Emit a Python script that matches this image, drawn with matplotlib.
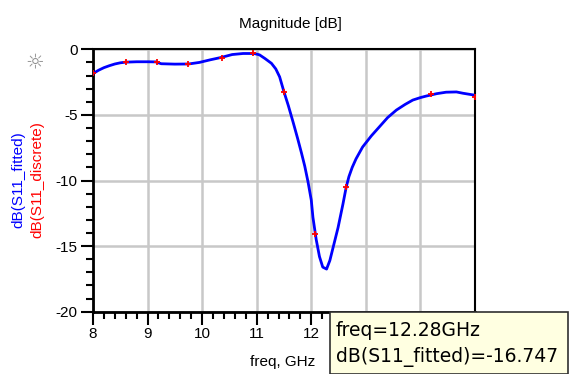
import matplotlib
matplotlib.use("Agg")
import matplotlib.pyplot as plt
from matplotlib.patches import Rectangle
from matplotlib.ticker import MultipleLocator

plt.rcParams['axes.unicode_minus'] = False
plt.rcParams['font.family'] = ['Liberation Sans', 'DejaVu Sans']

# --- data ---
fit_freq = [8.00, 8.10, 8.20, 8.30, 8.40, 8.50, 8.60, 8.80, 9.00, 9.15, 9.25, 9.50,
            9.75, 9.95, 10.15, 10.35, 10.55, 10.75, 10.95, 11.05, 11.15, 11.27, 11.35,
            11.42, 11.50, 11.58, 11.67, 11.75, 11.82, 11.88, 11.94, 12.00, 12.03, 12.09,
            12.15, 12.21, 12.28, 12.34, 12.40, 12.49, 12.58, 12.64, 12.69, 12.75, 12.82,
            12.94, 13.10, 13.25, 13.40, 13.56, 13.72, 13.86, 14.00, 14.11, 14.30, 14.47,
            14.66, 14.78, 15.00]
fit_db = [-1.85, -1.60, -1.40, -1.25, -1.12, -1.03, -0.98, -0.95, -0.95, -0.96, -1.10, -1.13,
          -1.12, -1.00, -0.80, -0.62, -0.40, -0.32, -0.32, -0.42, -0.70, -1.07, -1.50,
          -2.10, -3.25, -4.30, -5.60, -6.80, -7.90, -8.90, -10.10, -11.50, -12.80, -14.50,
          -15.80, -16.60, -16.75, -16.10, -15.10, -13.60, -11.80, -10.50, -9.70, -9.00, -8.35,
          -7.45, -6.60, -5.90, -5.20, -4.63, -4.20, -3.87, -3.68, -3.56, -3.38, -3.27,
          -3.25, -3.35, -3.50]

disc_freq = [8.00, 8.60, 9.18, 9.74, 10.36, 10.93, 11.50, 12.06, 12.64, 14.19, 15.00]
disc_db = [-1.80, -0.97, -0.97, -1.12, -0.65, -0.25, -3.25, -14.1, -10.5, -3.43, -3.60]

x_ticks = [8, 9, 10, 11, 12, 13, 14, 15]
x_labels = ['8', '9', '10', '11', '12', '', '', '']  # 13-15 sit under the readout box
y_ticks = [0, -5, -10, -15, -20]

W, H = 573, 374
fig = plt.figure(figsize=(W / 100, H / 100), dpi=100)
ax = fig.add_axes([93 / W, 1 - 311.7 / H, (475 - 93) / W, (311.7 - 49.3) / H])

ax.plot(fit_freq, fit_db, color='#0000ff', lw=2, zorder=3)
ax.plot(disc_freq, disc_db, ls='none', marker='+', ms=5, mew=1.3, color='#ff0000', zorder=4)

ax.set_xlim(8, 15)
ax.set_ylim(-20, 0)
ax.set_xticks(x_ticks)
ax.set_xticklabels(x_labels)
ax.set_yticks(y_ticks)
ax.xaxis.set_minor_locator(MultipleLocator(0.2))
ax.yaxis.set_minor_locator(MultipleLocator(1))
ax.tick_params(axis='both', which='major', direction='out', length=9, width=1.5,
               labelsize=11, pad=2)
ax.tick_params(axis='both', which='minor', direction='out', length=5, width=1.5)
ax.grid(True, which='major', color='#c8c8c8', lw=1.8)
ax.set_axisbelow(True)
for side in ['left', 'bottom']:
    ax.spines[side].set_linewidth(2)
for side in ['top', 'right']:
    ax.spines[side].set_linewidth(1.5)

# axis labels and title
fig.text(290 / W, 1 - 24 / H, "Magnitude [dB]", ha='center', va='center', fontsize=11)
fig.text(283 / W, 1 - 362 / H, "freq, GHz", ha='center', va='center', fontsize=11)
fig.text(18 / W, 1 - 180 / H, "dB(S11_fitted)", rotation=90, ha='center', va='center',
         fontsize=11, color='#0000ff')
fig.text(37 / W, 1 - 180 / H, "dB(S11_discrete)", rotation=90, ha='center', va='center',
         fontsize=11, color='#ff0000')
fig.text(35 / W, 1 - 62 / H, "\u263c", ha='center', va='center', fontsize=15,
         color='#909090', family='DejaVu Sans')

# marker readout box
fig.patches.append(Rectangle((330 / W, 0), (567.5 - 330) / W, (H - 311.7) / H,
                             transform=fig.transFigure, facecolor='#ffffe1',
                             edgecolor='#303030', lw=1.2, zorder=10))
fig.text(336 / W, 1 - 331 / H, "freq=12.28GHz", ha='left', va='center', fontsize=13.5,
         family='DejaVu Sans', zorder=11)
fig.text(336 / W, 1 - 357 / H, "dB(S11_fitted)=-16.747", ha='left', va='center',
         fontsize=13.5, family='DejaVu Sans', zorder=11)

fig.savefig("out.png", dpi=100)
